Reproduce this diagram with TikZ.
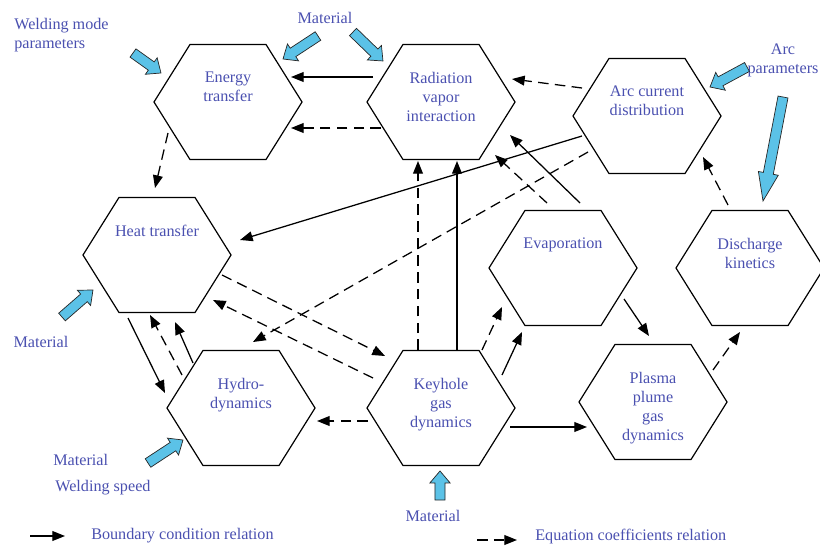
\documentclass[tikz,border=0pt]{standalone}
\usepackage{fontspec}
\setmainfont{Liberation Serif}
\definecolor{txtBlue}{HTML}{4A50B0}
\definecolor{skyArrow}{HTML}{5BC2E7}
\usetikzlibrary{arrows.meta, positioning, calc}

% hexagon cell: name, centre, text
\newcommand{\hexcell}[3]{%
  \node[hexbox] (#1) at (#2) {};
  \draw[hexline] (#1.west) -- ([shift={(36,0)}]#1.north west)
    -- ([shift={(-36,0)}]#1.north east) -- (#1.east)
    -- ([shift={(-36,0)}]#1.south east) -- ([shift={(36,0)}]#1.south west) -- cycle;
  \node[hextext, below=19.5pt of #1.north] (#1-txt) {#3};}

% light blue input arrow: [head length] from, to
\newcommand{\fatarrow}[3][8.5pt]{%
  \draw[fatarr] let \p1=(#2), \p2=(#3),
      \n1={atan2(\y2-\y1,\x2-\x1)}, \n2={veclen(\x2-\x1,\y2-\y1)} in
    [shift={(\p1)}, rotate=\n1]
    (0pt,-3.6pt) -- ({\n2-#1},-3.6pt) -- ({\n2-#1},-7.2pt) -- ({\n2*1pt},0pt)
    -- ({\n2-#1},7.2pt) -- ({\n2-#1},3.6pt) -- (0pt,3.6pt) -- cycle;}

\begin{document}
\begin{tikzpicture}[x=0.025cm, y=-0.025cm,
  hexbox/.style={rectangle, minimum width=3.7cm, minimum height=2.875cm,
    inner sep=0pt, outer sep=0pt},
  hexline/.style={line width=0.85pt, line join=miter},
  hextext/.style={align=center, text=txtBlue, font=\fontsize{11.5}{13.5}\selectfont,
    inner sep=0pt, outer sep=0pt},
  lbl/.style={text=txtBlue, font=\fontsize{11.5}{13.5}\selectfont, inner sep=0pt},
  bnd/.style={-{Triangle[length=9pt,width=7pt]}, line width=0.9pt},
  coef/.style={bnd, dash pattern=on 7.5pt off 4.5pt},
  fatarr/.style={draw=black!85, fill=skyArrow, line width=0.5pt, line join=miter}]

  \useasboundingbox (0,0) rectangle (820,545);

  % Hexagon cells
  \hexcell{et}{228,102}{Energy\\transfer}
  \hexcell{rv}{441,102}{Radiation\\vapor\\interaction}
  \hexcell{ac}{647,116}{Arc current\\distribution}
  \hexcell{ht}{157,255}{Heat transfer}
  \hexcell{ev}{563,268}{Evaporation}
  \hexcell{dk}{750,268}{Discharge\\kinetics}
  \hexcell{hd}{241,408}{Hydro-\\dynamics}
  \hexcell{kg}{441,408}{Keyhole\\gas\\dynamics}
  \hexcell{pp}{653,402}{Plasma\\plume\\gas\\dynamics}

  % Input labels
  \node[lbl, anchor=north west, align=left] (wmp) at (14,18) {Welding mode\\parameters};
  \node[lbl, anchor=base] (mat1) at (325,24) {Material};
  \node[lbl, anchor=north, align=center] (arcp) at (783,44) {Arc\\parameters};
  \node[lbl, anchor=base] (mat2) at (41,347) {Material};
  \node[lbl, anchor=base west] (mat3) at (53,465) {Material};
  \node[lbl, anchor=base west] (wsp) at (55,491) {Welding speed};
  \node[lbl, anchor=base] (mat4) at (433,521) {Material};

  % Input arrows
  \fatarrow{[shift={(-95,-49)}]et.center}{[shift={(-67,-29)}]et.center}
  \fatarrow{[shift={(90,-66)}]et.center}{[shift={(55,-43)}]et.center}
  \fatarrow{[shift={(-88,-70)}]rv.center}{[shift={(-58,-41)}]rv.center}
  \fatarrow{[shift={(100,-49)}]ac.center}{[shift={(63,-29)}]ac.center}
  \fatarrow[20pt]{[shift={(33,-171)}]dk.center}{[shift={(13,-67)}]dk.center}
  \fatarrow{[shift={(-95,62)}]ht.center}{[shift={(-64,35)}]ht.center}
  \fatarrow{[shift={(-93,55)}]hd.center}{[shift={(-58,32)}]hd.center}
  \fatarrow{[shift={(-1,92)}]kg.center}{[shift={(-1,63)}]kg.center}

  % Relations between cells
  \draw[bnd]  ([shift={(-68,-25)}]rv.center) -- ([shift={(63,-25)}]et.center);
  \draw[coef] ([shift={(-60,26)}]rv.center)  -- ([shift={(63,26)}]et.center);
  \draw[coef] ([shift={(-60,31)}]et.center)  -- ([shift={(-2,-67)}]ht.center);
  \draw[coef] ([shift={(-65,-28)}]ac.center) -- ([shift={(71,-23)}]rv.center);
  \draw[bnd]  ([shift={(-65,20)}]ac.center)  -- ([shift={(83,-15)}]ht.center);
  \draw[coef] ([shift={(-59,36)}]ac.center)  -- ([shift={(12,-66)}]hd.center);
  \draw[coef] ([shift={(-23,-58)}]kg.center) -- ([shift={(-23,59)}]rv.center);
  \draw[bnd]  ([shift={(16,-58)}]kg.center)  -- ([shift={(16,59)}]rv.center);
  \draw[bnd]  ([shift={(17,-65)}]ev.center)  -- ([shift={(69,33)}]rv.center);
  \draw[coef] ([shift={(-16,-65)}]ev.center) -- ([shift={(54,53)}]rv.center);
  \draw[coef] ([shift={(-22,-63)}]dk.center) -- ([shift={(56,41)}]ac.center);
  \draw[coef] ([shift={(65,20)}]ht.center)   -- ([shift={(-56,-52)}]kg.center);
  \draw[coef] ([shift={(-68,-30)}]kg.center) -- ([shift={(56,45)}]ht.center);
  \draw[bnd]  ([shift={(-29,63)}]ht.center)  -- ([shift={(-76,-15)}]hd.center);
  \draw[coef] ([shift={(-59,-33)}]hd.center) -- ([shift={(-7,60)}]ht.center);
  \draw[bnd]  ([shift={(-48,-45)}]hd.center) -- ([shift={(18,67)}]ht.center);
  \draw[coef] ([shift={(-73,13)}]kg.center)  -- ([shift={(76,13)}]hd.center);
  \draw[coef] ([shift={(41,-58)}]kg.center)  -- ([shift={(-61,39)}]ev.center);
  \draw[bnd]  ([shift={(61,-33)}]kg.center)  -- ([shift={(-41,64)}]ev.center);
  \draw[bnd]  ([shift={(61,31)}]ev.center)   -- ([shift={(-4,-66)}]pp.center);
  \draw[coef] ([shift={(60,-32)}]pp.center)  -- ([shift={(-10,64)}]dk.center);
  \draw[bnd]  ([shift={(69,19)}]kg.center)   -- ([shift={(-66,25)}]pp.center);

  % Legend
  \node[lbl, anchor=base west] (lgbnd) at (91,539) {Boundary condition relation};
  \node[lbl, anchor=base west] (lgcoef) at (535,540) {Equation coefficients relation};
  \coordinate (lgb0) at (30,536);
  \coordinate (lgb1) at (65,536);
  \coordinate (lgc0) at (477,540);
  \coordinate (lgc1) at (517,540);
  \draw[bnd]  (lgb0) -- (lgb1);
  \draw[coef] (lgc0) -- (lgc1);
\end{tikzpicture}
\end{document}
